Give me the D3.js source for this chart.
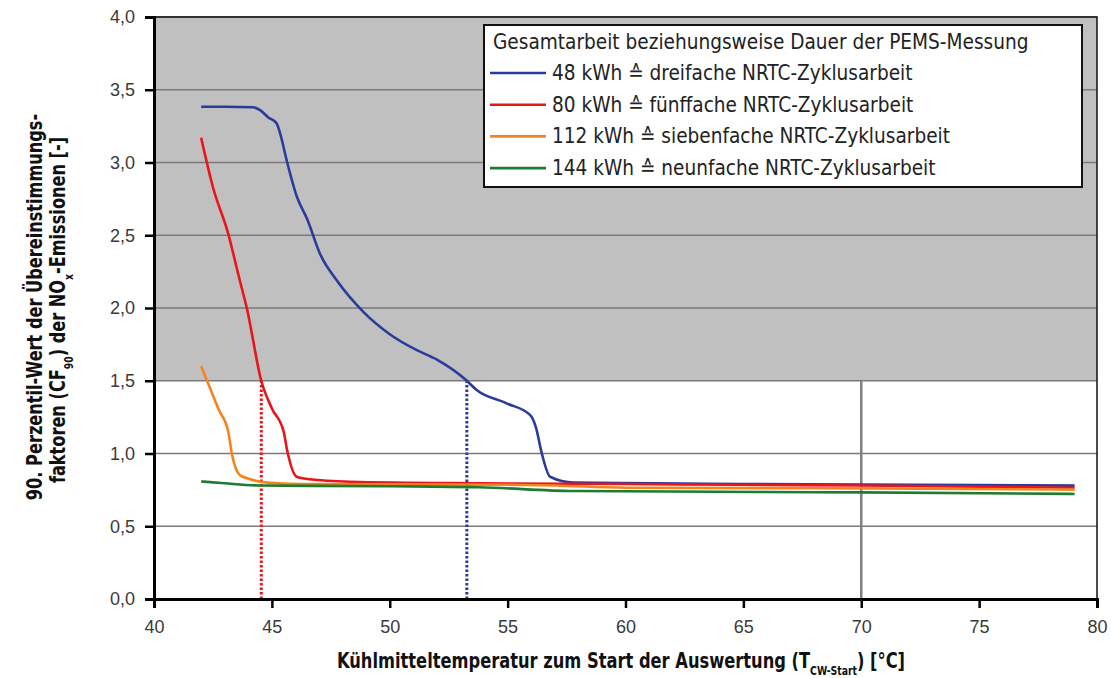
<!DOCTYPE html>
<html>
<head>
<meta charset="utf-8">
<script src="https://cdn.jsdelivr.net/npm/d3@7"></script>
<style>
  body { margin: 0; background: #fff; }
  .tick text { font-family: "Liberation Sans", Arial, sans-serif; font-size: 18px; fill: #3a3a3a; }
  .legend text { font-family: "Liberation Sans Narrow", "DejaVu Sans Condensed", sans-serif; font-size: 20.6px; fill: #222; }
  .achse { font-family: "Liberation Sans Narrow", "DejaVu Sans Condensed", sans-serif; font-weight: bold; font-size: 21px; fill: #111; }
</style>
</head>
<body>
<script>
// Messwerte: [Kühlmitteltemperatur, CF90]
var kurve48 = [[42.0, 3.383], [43.0, 3.383], [44.2, 3.38], [44.5, 3.36], [44.85, 3.31], [45.2, 3.27], [45.35, 3.2],
    [45.65, 3.0], [46.05, 2.77], [46.5, 2.61], [47.05, 2.37], [47.75, 2.19], [48.9, 1.97], [50.0, 1.82],
    [51.15, 1.71], [52.0, 1.645], [53.2, 1.51], [53.7, 1.435], [54.95, 1.345], [55.95, 1.265], [56.2, 1.18],
    [56.45, 1.0], [56.8, 0.84], [57.8, 0.80], [61.3, 0.795], [65, 0.79], [70, 0.787], [75, 0.783], [79.05, 0.779]];
var kurve80 = [[42.0, 3.17], [42.5, 2.83], [43.15, 2.51], [43.6, 2.215], [43.95, 1.99], [44.55, 1.5], [45.0, 1.31],
    [45.5, 1.15], [45.65, 1.02], [46.05, 0.84], [46.6, 0.823], [48.3, 0.806], [53.8, 0.795], [60, 0.79],
    [65, 0.785], [70, 0.78], [75, 0.772], [79.05, 0.765]];
var kurve112 = [[42.0, 1.6], [42.35, 1.46], [42.75, 1.3], [43.15, 1.15], [43.3, 1.0], [43.65, 0.85], [43.95, 0.83],
    [44.8, 0.80], [46.2, 0.79], [55, 0.785], [57, 0.78], [60, 0.765], [70, 0.76], [79.05, 0.752]];
var kurve144 = [[42.0, 0.808], [43, 0.795], [44.5, 0.78], [50, 0.775], [53.8, 0.768], [57.8, 0.742], [66, 0.735],
    [70, 0.733], [79.05, 0.722]];

var serienNamen = ["48 kWh \u2259 dreifache NRTC-Zyklusarbeit", "80 kWh \u2259 fünffache NRTC-Zyklusarbeit",
    "112 kWh \u2259 siebenfache NRTC-Zyklusarbeit", "144 kWh \u2259 neunfache NRTC-Zyklusarbeit"];
var serienFarben = ["#2b3b9c", "#e8151b", "#f5841f", "#1f7b2f"];

var xTicks = [40, 45, 50, 55, 60, 65, 70, 75, 80];
var yTicks = [0, 0.5, 1, 1.5, 2, 2.5, 3, 3.5, 4];
var grenzwert = 1.5;          // grauer Bereich oberhalb
var grenzTemp = [44.55, 53.27]; // gepunktete Linien (80 kWh, 48 kWh)
var startTemp = 70;

var margin = { top: 17, right: 14, bottom: 79, left: 154 },
    width = 1111 - margin.left - margin.right,
    height = 678 - margin.top - margin.bottom;

var komma = d3.formatLocale({ decimal: ",", thousands: ".", grouping: [3], currency: ["", "€"] });

var x = d3.scaleLinear().domain([40, 80]).range([0, width]);
var y = d3.scaleLinear().domain([0, 4]).range([height, 0]);

var svg = d3.select("body").append("svg")
    .attr("width", 1111)
    .attr("height", 678)
    .append("g")
    .attr("transform", "translate(" + margin.left + "," + margin.top + ")");

// grauer Hintergrund oberhalb des Grenzwerts
svg.append("rect")
    .attr("x", 0).attr("y", y(4))
    .attr("width", width).attr("height", y(grenzwert) - y(4))
    .attr("fill", "#c0c0c0");

// horizontale Gitterlinien
svg.selectAll(".grid").data(yTicks.slice(1))
    .enter().append("line")
    .attr("x1", 0).attr("x2", width)
    .attr("y1", function (d) { return y(d); })
    .attr("y2", function (d) { return y(d); })
    .attr("stroke", "#7a7a7a").attr("stroke-width", 1.5);

// senkrechte Linie bei 70 °C
svg.append("line")
    .attr("x1", x(startTemp)).attr("x2", x(startTemp))
    .attr("y1", y(0)).attr("y2", y(grenzwert))
    .attr("stroke", "#808080").attr("stroke-width", 2.5);

// gepunktete Linien
svg.selectAll(".punkt").data(grenzTemp)
    .enter().append("line")
    .attr("x1", function (d) { return x(d); })
    .attr("x2", function (d) { return x(d); })
    .attr("y1", y(0)).attr("y2", y(grenzwert))
    .attr("stroke", function (d, i) { return i === 0 ? serienFarben[1] : serienFarben[0]; })
    .attr("stroke-width", 3)
    .attr("stroke-dasharray", "2.5,2");

// Kurven
var line = d3.line()
    .curve(d3.curveMonotoneX)
    .x(function (d) { return x(d[0]); })
    .y(function (d) { return y(d[1]); });

var kurven = [kurve48, kurve80, kurve112, kurve144];
svg.selectAll(".kurve").data(kurven)
    .enter().append("path")
    .attr("d", line)
    .attr("fill", "none")
    .attr("stroke", function (d, i) { return serienFarben[i]; })
    .attr("stroke-width", 2.6)
    .attr("stroke-linejoin", "round");

// Rahmen
svg.append("rect")
    .attr("width", width).attr("height", height)
    .attr("fill", "none").attr("stroke", "#111").attr("stroke-width", 1.5);

// Achsen
var xAxis = svg.append("g")
    .attr("transform", "translate(0," + height + ")")
    .call(d3.axisBottom(x).tickValues(xTicks).tickSize(9).tickPadding(12).tickFormat(d3.format("d")));
var yAxis = svg.append("g")
    .call(d3.axisLeft(y).tickValues(yTicks).tickSize(9).tickPadding(10).tickFormat(komma.format(".1f")));
[xAxis, yAxis].forEach(function (a) {
    a.select(".domain").attr("stroke", "#000").attr("stroke-width", 3);
    a.selectAll(".tick line").attr("stroke", "#000").attr("stroke-width", 2.5);
});

// Legende
var legende = svg.append("g").attr("class", "legend")
    .attr("transform", "translate(" + (484 - margin.left) + "," + (25 - margin.top) + ")");
legende.append("rect")
    .attr("width", 598).attr("height", 162)
    .attr("fill", "#fff").attr("stroke", "#111").attr("stroke-width", 2);
legende.append("text")
    .attr("x", 9).attr("y", 24)
    .text("Gesamtarbeit beziehungsweise Dauer der PEMS-Messung");
var eintrag = legende.selectAll(".eintrag").data(serienNamen)
    .enter().append("g")
    .attr("transform", function (d, i) { return "translate(0," + (48 + i * 31.7) + ")"; });
eintrag.append("line")
    .attr("x1", 6).attr("x2", 62)
    .attr("stroke", function (d, i) { return serienFarben[i]; })
    .attr("stroke-width", 2.6);
eintrag.append("text")
    .attr("x", 68).attr("y", 7)
    .text(function (d) { return d; });

// Achsentitel (schmale Schrift -> horizontal gestaucht)
var xt = svg.append("text").attr("class", "achse")
    .attr("transform", "translate(" + (621 - margin.left) + "," + (668 - margin.top) + ") scale(0.862,1)")
    .attr("text-anchor", "middle");
xt.append("tspan").text("Kühlmitteltemperatur zum Start der Auswertung (T");
xt.append("tspan").attr("baseline-shift", "sub").attr("font-size", "12px").text("CW-Start");
xt.append("tspan").attr("baseline-shift", "0").text(") [°C]");

var yt = svg.append("text").attr("class", "achse")
    .attr("transform", "translate(" + (42 - margin.left) + "," + (307 - margin.top) + ") rotate(-90) scale(0.856,1)")
    .attr("text-anchor", "middle");
yt.append("tspan").text("90. Perzentil-Wert der Übereinstimmungs-");
var yt2 = svg.append("text").attr("class", "achse")
    .attr("transform", "translate(" + (65 - margin.left) + "," + (310 - margin.top) + ") rotate(-90) scale(0.856,1)")
    .attr("text-anchor", "middle");
yt2.append("tspan").text("faktoren (CF");
yt2.append("tspan").attr("baseline-shift", "sub").attr("font-size", "12px").text("90");
yt2.append("tspan").attr("baseline-shift", "0").text(") der NO");
yt2.append("tspan").attr("baseline-shift", "sub").attr("font-size", "12px").text("x");
yt2.append("tspan").attr("baseline-shift", "0").text("-Emissionen [-]");
</script>
</body>
</html>
